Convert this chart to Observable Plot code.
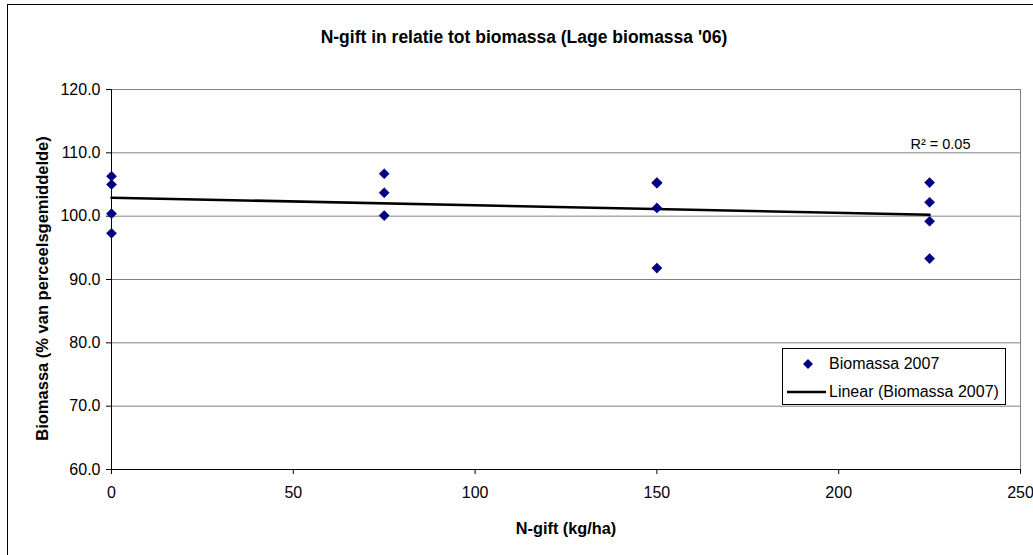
<!DOCTYPE html>
<html>
<head>
<meta charset="utf-8">
<script src="https://cdn.jsdelivr.net/npm/d3@7"></script>
<script src="https://cdn.jsdelivr.net/npm/@observablehq/plot@0.6"></script>
<style>
  html, body { margin: 0; padding: 0; background: #fff; }
  #wrap { position: relative; width: 1033px; height: 555px; overflow: hidden; font-family: "Liberation Sans", Arial, sans-serif; }
  #border { position: absolute; left: 7px; top: 4px; width: 1100px; height: 700px; border: 1px solid #000; box-sizing: border-box; pointer-events: none; }
  #chart { position: absolute; left: 0; top: 0; }
  #chart g[aria-label="x-axis label"] text { font-weight: bold; font-size: 16.3px; }
  #chart .boldlabel text { font-weight: bold; }
  #legend { position: absolute; left: 782px; top: 348px; width: 224px; height: 57px; border: 1px solid #000; box-sizing: border-box; background: #fff; font-size: 16px; color: #000; }
  #legend .row { position: absolute; left: 0; height: 20px; display: flex; align-items: center; white-space: nowrap; }
  #legend svg { display: block; }
</style>
</head>
<body>
<div id="wrap">
  <div id="chart"></div>
  <div id="border"></div>
  <div id="legend"></div>
</div>
<script>
// Data
const nGift = [0, 0, 0, 0, 75, 75, 75, 150, 150, 150, 150, 225, 225, 225, 225];
const biomassa = [106.3, 105.0, 100.4, 97.3, 106.7, 103.7, 100.1, 105.2, 105.3, 101.3, 91.8, 105.3, 102.2, 99.2, 93.3];
const xTicks = [0, 50, 100, 150, 200, 250];
const yTicks = [60, 70, 80, 90, 100, 110, 120];
const seriesName = "Biomassa 2007";
const trendName = "Linear (Biomassa 2007)";
const titleText = "N-gift in relatie tot biomassa (Lage biomassa '06)";
const xLabel = "N-gift (kg/ha)";
const yLabel = "Biomassa (% van perceelsgemiddelde)";

const data = nGift.map((x, i) => ({x, y: biomassa[i]}));

// R² of the linear fit
const mx = d3.mean(nGift), my = d3.mean(biomassa);
let sxy = 0, sxx = 0, syy = 0;
data.forEach(d => { sxy += (d.x - mx) * (d.y - my); sxx += (d.x - mx) ** 2; syy += (d.y - my) ** 2; });
const r2 = (sxy * sxy) / (sxx * syy);
const r2Label = "R\u00B2 = " + r2.toFixed(2);

const navy = "#000080";
const grid = "#808080";

const plot = Plot.plot({
  width: 1033,
  height: 555,
  marginLeft: 111,
  marginRight: 13,
  marginTop: 89,
  marginBottom: 86,
  style: { fontFamily: "'Liberation Sans', Arial, sans-serif", fontSize: "16px", color: "#000", background: "transparent" },
  x: { domain: [0, 250] },
  y: { domain: [60, 120] },
  marks: [
    Plot.gridY(yTicks, { stroke: grid, strokeOpacity: 1, strokeWidth: 1 }),
    Plot.ruleX([250], { stroke: grid, strokeWidth: 1 }),
    Plot.ruleX([0], { stroke: "#000", strokeWidth: 1 }),
    Plot.ruleY([60], { stroke: "#000", strokeWidth: 1 }),
    Plot.axisY(yTicks, {
      tickSize: 5, tickPadding: 6, tickFormat: d => d.toFixed(1), label: null, fill: "#000"
    }),
    Plot.axisX(xTicks, {
      tickSize: 5, tickPadding: 12, tickFormat: d => String(d),
      label: xLabel, labelAnchor: "center", labelArrow: "none", labelOffset: 64, fill: "#000"
    }),
    Plot.linearRegressionY(data, { x: "x", y: "y", stroke: "#000", strokeWidth: 2.6, ci: 0 }),
    Plot.dot(data, { x: "x", y: "y", symbol: "diamond2", r: 4.6, fill: navy, stroke: navy, strokeWidth: 0.5 }),
    Plot.text([r2Label], { text: d => d, frameAnchor: "top-right", textAnchor: "end", dx: -50, dy: 49, fontSize: 14.5, fill: "#000" }),
    Plot.text([titleText], { text: d => d, frameAnchor: "top", dx: -42, dy: -59, fontSize: 17.5, fill: "#000", className: "boldlabel" }),
    Plot.text([yLabel], { text: d => d, frameAnchor: "left", textAnchor: "middle", rotate: -90, dx: -69, dy: 9, fontSize: 16.5, fill: "#000", className: "boldlabel" })
  ]
});
document.getElementById("chart").appendChild(plot);

// Legend
const legend = document.getElementById("legend");
const row1 = document.createElement("div");
row1.className = "row"; row1.style.top = "5px";
row1.innerHTML = `<svg width="46" height="20"><path d="M25,5 L30,10 L25,15 L20,10 Z" fill="${navy}"/></svg><span>${seriesName}</span>`;
const row2 = document.createElement("div");
row2.className = "row"; row2.style.top = "33px";
row2.innerHTML = `<svg width="46" height="20"><line x1="4" x2="43" y1="10" y2="10" stroke="#000" stroke-width="2.6"/></svg><span>${trendName}</span>`;
legend.appendChild(row1);
legend.appendChild(row2);
</script>
</body>
</html>
